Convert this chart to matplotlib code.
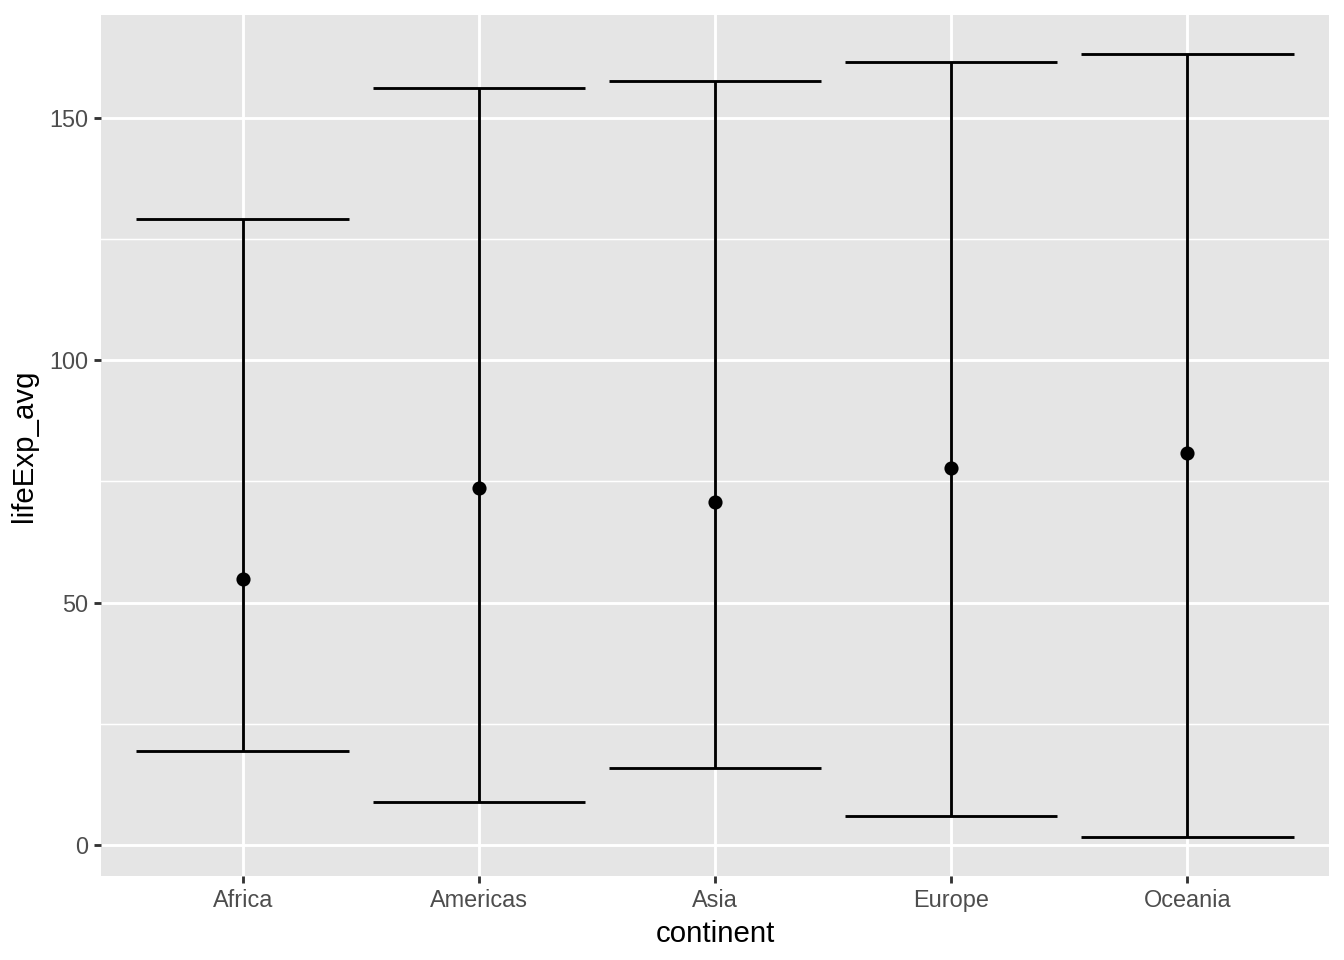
import matplotlib
matplotlib.use("Agg")
import matplotlib.pyplot as plt
import numpy as np

continents = ["Africa", "Americas", "Asia", "Europe", "Oceania"]
life_avg = [54.9, 73.7, 70.8, 77.8, 80.9]
life_upper = [129.2, 156.2, 157.7, 161.6, 163.2]
life_lower = [19.4, 8.9, 15.9, 6.0, 1.65]
y_ticks = [0, 50, 100, 150]
y_minor = [25, 75, 125]

plt.rcParams['font.family'] = ['Liberation Sans', 'DejaVu Sans']

fig = plt.figure(figsize=(7, 5), dpi=192)
ax = fig.add_axes([101/1344, 84/960, (1329-101)/1344, (876-15)/960])
ax.set_facecolor("#E5E5E5")

x = np.arange(1, len(continents) + 1)

for v in y_minor:
    ax.axhline(v, color="white", lw=0.55, zorder=0)
for v in y_ticks:
    ax.axhline(v, color="white", lw=1.07, zorder=0)
for xi in x:
    ax.axvline(xi, color="white", lw=1.07, zorder=0)

hw = 0.45
for xi, lo, hi in zip(x, life_lower, life_upper):
    ax.vlines(xi, lo, hi, color="black", lw=1.07, zorder=2)
    ax.hlines([lo, hi], xi - hw, xi + hw, color="black", lw=1.07, zorder=2)
ax.plot(x, life_avg, "o", color="black", markersize=4.3, zorder=3)

ax.set_xlim(0.4, 5.6)
rng = max(life_upper) - min(life_lower)
ax.set_ylim(min(life_lower) - 0.05 * rng, max(life_upper) + 0.05 * rng)

ax.set_xticks(x)
ax.set_xticklabels(continents)
ax.set_yticks(y_ticks)
ax.set_yticklabels([str(t) for t in y_ticks])
ax.tick_params(axis="both", length=2.75, width=1.07, color="#333333",
               labelcolor="#4D4D4D", labelsize=8.8, pad=2.2)
for s in ax.spines.values():
    s.set_visible(False)

ax.set_xlabel("continent", fontsize=11, color="black", labelpad=3)
ax.set_ylabel("lifeExp_avg", fontsize=11, color="black", labelpad=4)

fig.savefig("out.png", dpi=192)
